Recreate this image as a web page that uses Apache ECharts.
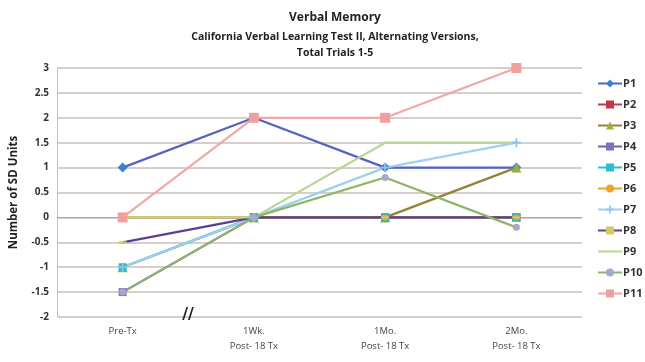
<!DOCTYPE html>
<html>
<head>
<meta charset="utf-8">
<script src="https://cdn.jsdelivr.net/npm/echarts@6/dist/echarts.min.js"></script>
<style>
  html, body { margin: 0; padding: 0; background: #fff; }
  #chart { width: 645px; height: 362px; }
</style>
</head>
<body>
<div id="chart"></div>
<script>
// Time points
const categories = ['Pre-Tx', '1Wk.\nPost- 18 Tx', '1Mo.\nPost- 18 Tx', '2Mo.\nPost- 18 Tx'];
const yTicks = { min: -2, max: 3, interval: 0.5 };

// Standardised scores per participant
const P1 = [1, 2, 1, 1];
const P2 = [0, 0, 0, 0];
const P3 = [-1, 0, 0, 1];
const P4 = [-1.5, 0, 0, 0];
const P5 = [-1, 0, 0, 0];
const P6 = [0, 0, 0, 0];
const P7 = [-1, 0, 1, 1.5];
const P8 = [-0.5, 0, 0, 0];
const P9 = [0, 0, 1.5, 1.5];
const P10 = [-1.5, 0, 0.8, -0.2];
const P11 = [0, 2, 2, 3];

const participants = [
  { name: 'P1', data: P1, color: '#5462C0', marker: '#3F7FCF', symbol: 'diamond', size: 10 },
  { name: 'P2', data: P2, color: '#B83A55', marker: '#C8334A', symbol: 'rect', size: 8 },
  { name: 'P3', data: P3, color: '#948237', marker: '#9AAE3E', symbol: 'triangle', size: 10 },
  { name: 'P4', data: P4, color: '#6F5FB5', marker: '#8070C0', symbol: 'rect', size: 8 },
  { name: 'P5', data: P5, color: '#2EBCC8', marker: '#2EBCC8', symbol: 'rect', size: 8 },
  { name: 'P6', data: P6, color: '#F2A030', marker: '#F2A030', symbol: 'circle', size: 6 },
  { name: 'P7', data: P7, color: '#9FD0EE', marker: '#8CC4E8', symbol: 'path://M4,0H6V4H10V6H6V10H4V6H0V4H4Z', size: 9 },
  { name: 'P8', data: P8, color: '#5A3D9A', marker: '#D8C860', symbol: 'rect', size: [8, 2] },
  { name: 'P9', data: P9, color: '#B7D891', marker: '#B7D891', symbol: 'none', size: 0 },
  { name: 'P10', data: P10, color: '#8DB56A', marker: '#A8A8CC', symbol: 'circle', size: 7 },
  { name: 'P11', data: P11, color: '#F2A7A2', marker: '#F0A0A0', symbol: 'rect', size: 10 }
];

const chart = echarts.init(document.getElementById('chart'));

const option = {
  backgroundColor: '#ffffff',
  animation: false,
  title: [
    {
      text: 'Verbal Memory',
      left: 330, top: 7, textAlign: 'center',
      textStyle: { fontFamily: 'Open Sans', fontSize: 12, fontWeight: 'bold', color: '#222' }
    },
    {
      text: 'California Verbal Learning Test II, Alternating Versions,\nTotal Trials 1-5',
      left: 330, top: 24, textAlign: 'center',
      textStyle: { fontFamily: 'Open Sans', fontSize: 10.5, fontWeight: 'bold', color: '#222', lineHeight: 16 }
    }
  ],
  grid: { left: 57, right: 63, top: 68, bottom: 45, containLabel: false },
  legend: {
    orient: 'vertical',
    left: 592, top: 73,
    itemWidth: 24, itemHeight: 10, itemGap: 10,
    textStyle: { fontFamily: 'Open Sans', fontSize: 11, fontWeight: 'bold', color: '#333', padding: [0, 0, 0, -4] },
    data: participants.map(p => p.symbol === 'none'
      ? { name: p.name, icon: 'path://M0,0H24V2H0Z', itemStyle: { color: p.color } }
      : p.name)
  },
  xAxis: {
    type: 'category',
    data: categories,
    boundaryGap: true,
    axisLine: { lineStyle: { color: '#A8A8A8', width: 1 } },
    axisTick: { show: false },
    axisLabel: { fontFamily: 'Open Sans', fontSize: 9.5, color: '#444', lineHeight: 15, margin: 7 }
  },
  yAxis: {
    type: 'value',
    min: yTicks.min, max: yTicks.max, interval: yTicks.interval,
    name: 'Number of SD Units',
    nameLocation: 'middle',
    nameGap: 37,
    nameTextStyle: { fontFamily: 'Open Sans', fontSize: 11.5, fontWeight: 'bold', color: '#222' },
    axisLine: { show: true, lineStyle: { color: '#C8C0BA', width: 1 } },
    axisTick: { show: false },
    axisLabel: { fontFamily: 'Open Sans', fontSize: 10, fontWeight: 'bold', color: '#333', margin: 8 },
    splitLine: { lineStyle: { color: '#C9BFB8', width: 1.5 } }
  },
  series: participants.map(p => ({
    name: p.name,
    type: 'line',
    data: p.data,
    symbol: p.symbol,
    symbolSize: p.size,
    showSymbol: p.symbol !== 'none',
    lineStyle: { color: p.color, width: 2.2 },
    itemStyle: { color: p.marker, borderWidth: 0 },
    emphasis: { disabled: true }
  }))
};

chart.setOption(option);

// Axis break mark between the first and second time point
const x0 = chart.convertToPixel({ xAxisIndex: 0 }, categories[0]);
const x1 = chart.convertToPixel({ xAxisIndex: 0 }, categories[1]);
const yBase = chart.convertToPixel({ yAxisIndex: 0 }, yTicks.min);
chart.setOption({
  graphic: [{
    type: 'text',
    left: (x0 + x1) / 2 - 6,
    top: yBase - 10,
    style: { text: '//', fontFamily: 'DejaVu Sans', fontSize: 16, fontWeight: 'bold', fill: '#222' },
    z: 10
  }]
});
</script>
</body>
</html>
